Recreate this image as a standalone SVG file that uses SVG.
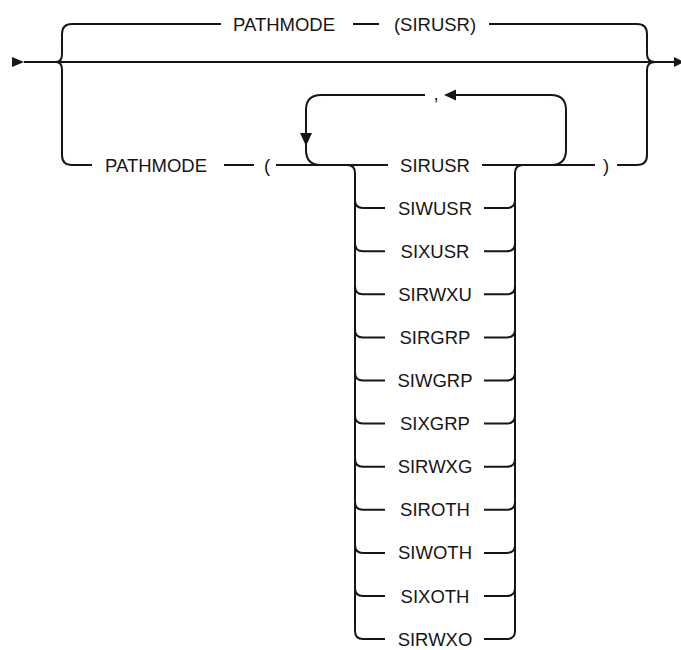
<svg xmlns="http://www.w3.org/2000/svg" width="681" height="650" viewBox="0 0 681 650">
<defs>
<style>
.ln{fill:none;stroke:#161616;stroke-width:2;stroke-linecap:butt}
.ah{fill:#161616;stroke:none}
text{font-family:"Liberation Sans",Arial,sans-serif;font-size:18.5px;fill:#161616;text-anchor:middle}
</style>
</defs>
<rect width="681" height="650" fill="#ffffff"/>
<g id="connectors">
<path class="ln" d="M24 62 H676"/>
<polygon class="ah" points="12,57 24,62 12,67"/>
<polygon class="ah" points="674,57 684,62 674,67"/>
<path class="ln" d="M56 62 Q62 62 62 54 V34 Q62 24 72 24 H221"/>
<path class="ln" d="M56 62 Q62 62 62 70 V155 Q62 165 72 165 H92"/>
<path class="ln" d="M489 24 H637 Q647 24 647 34 V54 Q647 62 655 62"/>
<path class="ln" d="M617 165 H637 Q647 165 647 155 V70 Q647 62 655 62"/>
<path class="ln" d="M353 24 H379"/>
<path class="ln" d="M224 165 H254"/>
<path class="ln" d="M276 165 H388"/>
<path class="ln" d="M482 165 H595"/>
<path class="ln" d="M551 165 Q566 165 566 150 V110 Q566 95 551 95 H455"/>
<polygon class="ah" points="444,95 456,89.5 456,100.5"/>
<path class="ln" d="M425 95 H321 Q306 95 306 110 V150 Q306 165 321 165"/>
<polygon class="ah" points="300,133 312,133 306,146"/>
<path class="ln" d="M347 165 Q355 165 355 173 V631.1 Q355 639.1 363 639.1 H385"/>
<path class="ln" d="M523 165 Q515 165 515 173 V631.1 Q515 639.1 507 639.1 H484"/>
<path class="ln" d="M355 200.1 Q355 208.1 363 208.1 H385 M484 208.1 H507 Q515 208.1 515 200.1"/>
<path class="ln" d="M355 243.2 Q355 251.2 363 251.2 H385 M484 251.2 H507 Q515 251.2 515 243.2"/>
<path class="ln" d="M355 286.3 Q355 294.3 363 294.3 H385 M484 294.3 H507 Q515 294.3 515 286.3"/>
<path class="ln" d="M355 329.4 Q355 337.4 363 337.4 H385 M484 337.4 H507 Q515 337.4 515 329.4"/>
<path class="ln" d="M355 372.5 Q355 380.5 363 380.5 H385 M484 380.5 H507 Q515 380.5 515 372.5"/>
<path class="ln" d="M355 415.6 Q355 423.6 363 423.6 H385 M484 423.6 H507 Q515 423.6 515 415.6"/>
<path class="ln" d="M355 458.7 Q355 466.7 363 466.7 H385 M484 466.7 H507 Q515 466.7 515 458.7"/>
<path class="ln" d="M355 501.8 Q355 509.8 363 509.8 H385 M484 509.8 H507 Q515 509.8 515 501.8"/>
<path class="ln" d="M355 544.9 Q355 552.9 363 552.9 H385 M484 552.9 H507 Q515 552.9 515 544.9"/>
<path class="ln" d="M355 588 Q355 596 363 596 H385 M484 596 H507 Q515 596 515 588"/>
</g>
<g id="top-pathmode"><text x="284" y="30.5">PATHMODE</text></g>
<g id="top-sirusr"><text x="435" y="30.5">(SIRUSR)</text></g>
<g id="bottom-pathmode"><text x="156" y="171.5">PATHMODE</text></g>
<g id="lparen"><text x="267" y="171.5">(</text></g>
<g id="rparen"><text x="606" y="171.5">)</text></g>
<g id="comma"><text x="436" y="100">,</text></g>
<g id="opt-sirusr"><text x="435" y="171.5">SIRUSR</text></g>
<g id="opt-siwusr"><text x="435" y="214.6">SIWUSR</text></g>
<g id="opt-sixusr"><text x="435" y="257.7">SIXUSR</text></g>
<g id="opt-sirwxu"><text x="435" y="300.8">SIRWXU</text></g>
<g id="opt-sirgrp"><text x="435" y="343.9">SIRGRP</text></g>
<g id="opt-siwgrp"><text x="435" y="387">SIWGRP</text></g>
<g id="opt-sixgrp"><text x="435" y="430.1">SIXGRP</text></g>
<g id="opt-sirwxg"><text x="435" y="473.2">SIRWXG</text></g>
<g id="opt-siroth"><text x="435" y="516.3">SIROTH</text></g>
<g id="opt-siwoth"><text x="435" y="559.4">SIWOTH</text></g>
<g id="opt-sixoth"><text x="435" y="602.5">SIXOTH</text></g>
<g id="opt-sirwxo"><text x="435" y="645.6">SIRWXO</text></g>
</svg>
